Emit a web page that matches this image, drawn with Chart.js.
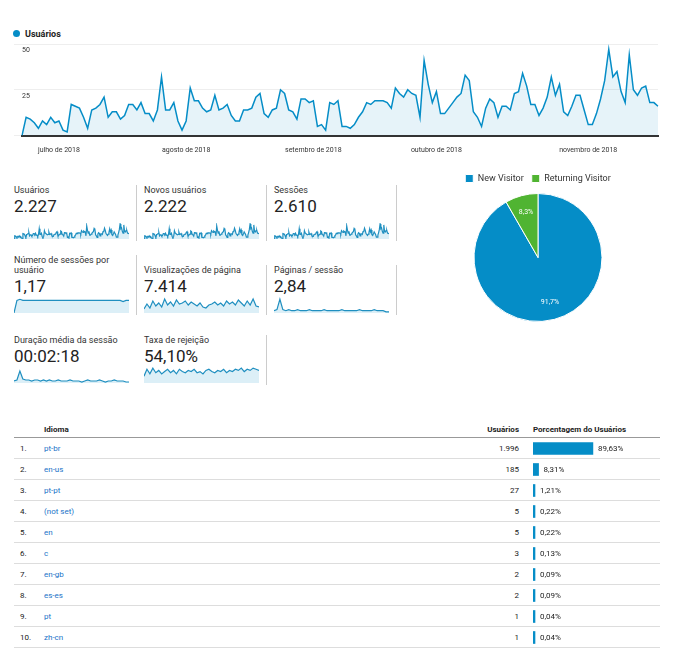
<!DOCTYPE html>
<html><head><meta charset="utf-8">
<script src="https://cdn.jsdelivr.net/npm/chart.js@4"></script>
<style>
body{margin:0;background:#fff;font-family:Roboto,sans-serif;color:#222;width:676px;height:649px;position:relative;overflow:hidden}
.abs{position:absolute}
.blk{position:absolute;width:122px;height:56px;border-right:1px solid #ccc}
.blk .t{font-size:9px;color:#333;line-height:10px}
.blk .v{font-size:17px;color:#222;line-height:18px;margin-top:2px}
.blk canvas{position:absolute;left:0;bottom:2px}
table{position:absolute;left:14px;top:421px;width:646px;border-collapse:collapse;font-size:8px}
td,th{height:20px;padding:0;border-bottom:1px solid #ddd}
th{height:16px;font-weight:bold;text-align:left;border-bottom:1px solid #999}
td.n{width:24px;padding-left:6px}
td.l{color:#1a73c8}
td.u,th.u{text-align:right;padding-right:10px}
td.p,th.p{width:127px;padding-left:4px}
</style></head><body>
<div class="abs" style="left:13px;top:29px;font-size:9px;font-weight:bold"><span style="display:inline-block;width:7px;height:7px;border-radius:50%;background:#058dc7;margin-right:5px"></span>Usuários</div>
<div class="abs" style="left:14px;top:38px;width:646px;height:118px"><canvas id="main"></canvas></div>

<div class="blk" style="left:14px;top:185px"><div class="t">Usuários</div><div class="v">2.227</div><canvas id="s1" width="115" height="16"></canvas></div>
<div class="blk" style="left:144px;top:185px"><div class="t">Novos usuários</div><div class="v">2.222</div><canvas id="s2" width="115" height="16"></canvas></div>
<div class="blk" style="left:274px;top:185px"><div class="t">Sessões</div><div class="v">2.610</div><canvas id="s3" width="115" height="16"></canvas></div>
<div class="blk" style="left:14px;top:255px;height:60px"><div class="t">Número de sessões por<br>usuário</div><div class="v">1,17</div><canvas id="s4" width="115" height="16"></canvas></div>
<div class="blk" style="left:144px;top:265px;height:50px"><div class="t">Visualizações de página</div><div class="v">7.414</div><canvas id="s5" width="115" height="16"></canvas></div>
<div class="blk" style="left:274px;top:265px;height:50px"><div class="t">Páginas / sessão</div><div class="v">2,84</div><canvas id="s6" width="115" height="16"></canvas></div>
<div class="blk" style="left:14px;top:335px;height:50px;border-right:none"><div class="t">Duração média da sessão</div><div class="v">00:02:18</div><canvas id="s7" width="115" height="14"></canvas></div>
<div class="blk" style="left:144px;top:335px;height:50px"><div class="t">Taxa de rejeição</div><div class="v">54,10%</div><canvas id="s8" width="115" height="16"></canvas></div>

<div class="abs" style="left:440px;top:166px;width:196px;height:156px"><canvas id="pie"></canvas></div>

<table id="tbl"><tr><th></th><th>Idioma</th><th class="u">Usuários</th><th class="p">Porcentagem do Usuários</th></tr></table>
<div class="abs" style="left:533px;top:438px;width:127px;height:210px"><canvas id="bars"></canvas></div>

<script>
const usersDaily = [0,10,9,7,4,8,6,10,7,8,3,2,17,16,15,10,4,14,15,17,21,10,13,13,9,11,17,17,14,18,12,12,8,14,32,14,14,18,8,3,8,26,19,19,15,13,14,22,14,15,17,11,8,8,14,14,15,21,23,12,10,14,15,25,23,14,13,9,20,20,18,19,5,6,3,18,17,19,
  5,5,4,6,10,13,18,17,19,19,19,18,15,26,23,21,25,23,22,10,41,28,18,24,12,12,15,18,21,23,33,30,13,10,5,15,20,18,10,16,16,14,23,24,34,27,17,17,11,15,21,32,22,28,13,11,16,22,22,14,6,6,12,20,30,47,32,35,24,18,44,25,22,26,27,18,18,16];
const monthTicks = {9:'julho de 2018',40:'agosto de 2018',71:'setembro de 2018',101:'outubro de 2018',138:'novembro de 2018'};
const yTicks = [0,25,50];

const sessionsPerUser = [0,11,12,11,11,11,11,11,11,11,11,11,11,11,11,11,11,11,11,11,11,11,11,11,11,11,11,11,11,11,11,11,11,11,11,11,11,10,11,11];
const pageviews = [4,9,5,12,7,10,6,14,8,11,7,13,9,10,12,8,11,9,7,10,6,5,8,9,11,8,10,7,12,9,11,8,13,10,7,12,8,14,7,6];
const pagesPerSession = [2,3,12,3,2,3,2,2,3,2,2,2,3,2,2,2,2,3,2,2,2,2,2,3,2,2,2,2,2,3,2,2,2,2,3,2,2,2,1,1];
const avgDuration = [2,3,12,4,3,3,2,3,3,2,3,2,3,2,2,3,2,2,2,3,2,2,2,1,2,3,2,2,2,3,2,1,2,2,3,2,2,2,1,1];
const bounceRate = [6,12,8,13,9,11,8,10,12,9,11,8,12,10,9,11,10,12,9,10,8,11,12,10,9,11,10,12,9,11,10,12,11,13,10,12,11,13,12,11];

const pieLabels = ['New Visitor','Returning Visitor'];
const pieValues = [91.7, 8.3];

const langs = ['pt-br','en-us','pt-pt','(not set)','en','c','en-gb','es-es','pt','zh-cn'];
const langUsers = [1996,185,27,5,5,3,2,2,1,1];
const langPct = [89.63,8.31,1.21,0.22,0.22,0.13,0.09,0.09,0.04,0.04];

const BLUE = '#058dc7', GREEN = '#50b432';
Chart.defaults.font.family = 'Roboto, sans-serif';
Chart.defaults.animation = false;

new Chart(document.getElementById('main'), {
  type: 'line',
  data: { labels: usersDaily.map((_, i) => monthTicks[i] || ''),
    datasets: [{ data: usersDaily, borderColor: BLUE, borderWidth: 1.5, backgroundColor: 'rgba(5,141,199,0.1)', fill: true, pointRadius: 0, tension: 0 }] },
  options: { responsive: true, maintainAspectRatio: false,
    layout: { padding: { left: 0, right: 0, top: 6 } },
    plugins: { legend: { display: false }, tooltip: { enabled: false } },
    scales: {
      x: { grid: { display: false }, border: { color: '#333', width: 2 },
        ticks: { autoSkip: false, maxRotation: 0, font: { size: 7 }, color: '#333', padding: 2 } },
      y: { min: 0, max: 50, afterBuildTicks: a => { a.ticks = yTicks.map(v => ({ value: v })); },
        border: { display: false }, grid: { color: '#eee' },
        ticks: { mirror: true, labelOffset: 6, padding: 0, font: { size: 7 }, color: '#333', callback: v => v === 0 ? '' : v } }
    } }
});

function spark(id, data, max) {
  new Chart(document.getElementById(id), {
    type: 'line',
    data: { labels: data.map((_, i) => i), datasets: [{ data, borderColor: '#1f8fc0', borderWidth: 1.2, backgroundColor: 'rgba(5,141,199,0.14)', fill: true, pointRadius: 0 }] },
    options: { responsive: false, plugins: { legend: { display: false }, tooltip: { enabled: false } },
      scales: { x: { display: false }, y: { display: false, min: 0, max } } }
  });
}
spark('s1', usersDaily, 50); spark('s2', usersDaily, 50); spark('s3', usersDaily, 50);
spark('s4', sessionsPerUser, 14); spark('s5', pageviews, 16); spark('s6', pagesPerSession, 14);
spark('s7', avgDuration, 14); spark('s8', bounceRate, 14);

new Chart(document.getElementById('pie'), {
  type: 'pie',
  data: { labels: pieLabels, datasets: [{ data: pieValues, backgroundColor: [BLUE, GREEN], borderColor: '#fff', borderWidth: 1 }] },
  options: { responsive: true, maintainAspectRatio: false,
    plugins: { tooltip: { enabled: false },
      legend: { position: 'top', labels: { boxWidth: 8, boxHeight: 8, padding: 8, font: { size: 9 }, color: '#333' } } } },
  plugins: [{ id: 'pct', afterDatasetsDraw(c) {
    const ctx = c.ctx; ctx.save(); ctx.fillStyle = '#fff'; ctx.font = '7px Roboto'; ctx.textAlign = 'center';
    c.getDatasetMeta(0).data.forEach((arc, i) => {
      const p = arc.tooltipPosition(); const cx = arc.x, cy = arc.y;
      const k = 1.45; ctx.fillText(pieValues[i].toFixed(1).replace('.', ',') + '%', cx + (p.x - cx) * k, cy + (p.y - cy) * k);
    });
    ctx.restore(); } }]
});

const tbl = document.getElementById('tbl');
langs.forEach((l, i) => {
  const tr = document.createElement('tr');
  tr.innerHTML = `<td class="n">${i + 1}.</td><td class="l">${l}</td><td class="u">${langUsers[i].toLocaleString('pt-BR')}</td><td class="p"></td>`;
  tbl.appendChild(tr);
});

new Chart(document.getElementById('bars'), {
  type: 'bar',
  data: { labels: langs, datasets: [{ data: langPct, backgroundColor: BLUE, barThickness: 12, minBarLength: 2 }] },
  options: { indexAxis: 'y', responsive: true, maintainAspectRatio: false,
    plugins: { legend: { display: false }, tooltip: { enabled: false } },
    scales: { x: { display: false, min: 0, max: 190 }, y: { display: false } } },
  plugins: [{ id: 'lbl', afterDatasetsDraw(c) {
    const ctx = c.ctx; ctx.save(); ctx.fillStyle = '#222'; ctx.font = '8px Roboto'; ctx.textBaseline = 'middle';
    c.getDatasetMeta(0).data.forEach((b, i) => ctx.fillText(langPct[i].toFixed(2).replace('.', ',') + '%', Math.max(b.x, b.base + 2) + 5, b.y));
    ctx.restore(); } }]
});
</script>
</body></html>
